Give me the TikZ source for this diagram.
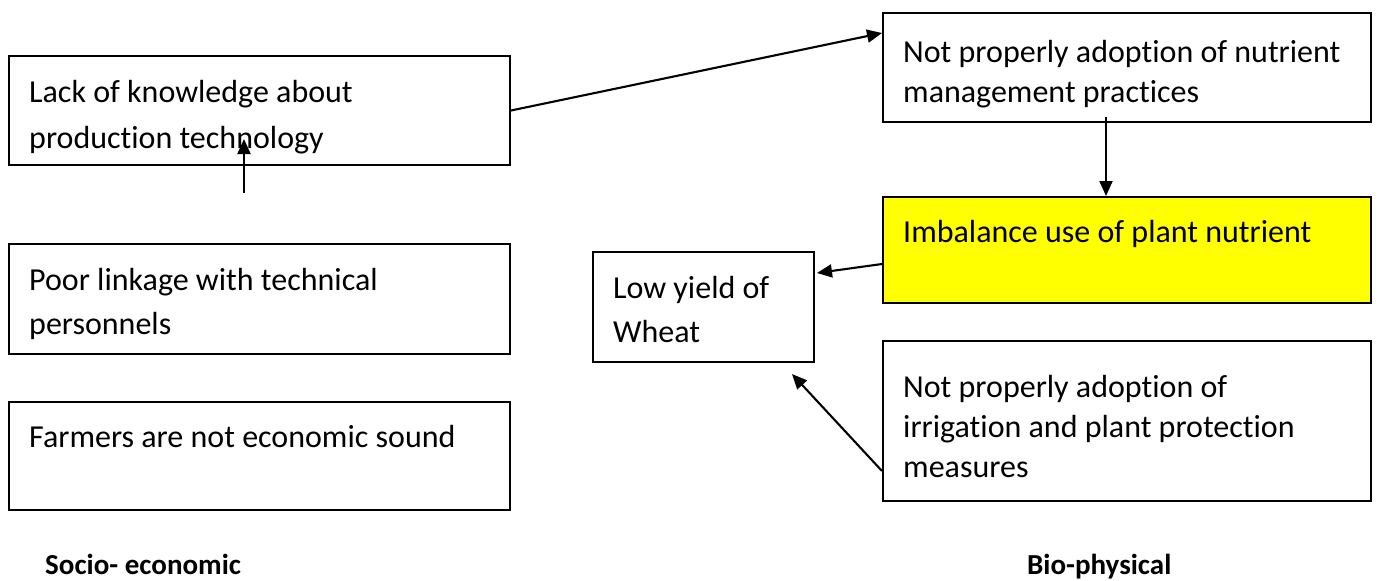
\documentclass[tikz,border=0pt]{standalone}
\usepackage{fontspec}
\setmainfont{Carlito}[Ligatures={NoCommon,NoContextual,NoRequired}]
\usetikzlibrary{arrows.meta}
\definecolor{boxyellow}{HTML}{FFFF00}
\begin{document}
\begin{tikzpicture}[x=1pt,y=-1pt,
  boxshape/.style={draw=black, line width=2pt, rectangle, inner sep=0pt, anchor=north west},
  txt/.style={inner sep=0pt, anchor=base west, align=left, font=\fontsize{32}{46}\selectfont},
  txtr/.style={txt, font=\fontsize{32}{40}\selectfont},
  lbl/.style={inner sep=0pt, anchor=base west, font=\bfseries\fontsize{29}{32}\selectfont},
  conn/.style={line width=2.1pt, -{Triangle[length=15pt,width=13pt]}}]
\useasboundingbox (0,0) rectangle (1379,581);
% boxes
\node[boxshape, minimum width=501pt, minimum height=109pt] (A) at (8,55) {};
\node[boxshape, minimum width=501pt, minimum height=110pt] (B) at (8,243) {};
\node[boxshape, minimum width=501pt, minimum height=108pt] (C) at (8,401) {};
\node[boxshape, minimum width=488pt, minimum height=109pt] (D) at (882,12) {};
\node[boxshape, fill=boxyellow, minimum width=488pt, minimum height=106pt] (E) at (882,196) {};
\node[boxshape, minimum width=221pt, minimum height=110pt] (F) at (592,251) {};
\node[boxshape, minimum width=488pt, minimum height=160pt] (G) at (882,340) {};
% texts (anchored at the baseline of the last line)
\node[txt] (tA) at (29,148) {Lack of knowledge about\\production technology};
\node[txt, font=\fontsize{32}{44}\selectfont] (tB) at (29,334) {Poor linkage with technical\\personnels};
\node[txt] (tC) at (29,447) {Farmers are not economic sound};
\node[txtr] (tD) at (903,102) {Not properly adoption of nutrient\\management practices};
\node[txtr] (tE) at (903,242) {Imbalance use of plant nutrient};
\node[txt, font=\fontsize{32}{44}\selectfont] (tF) at (613,342) {Low yield of\\Wheat};
\node[txtr] (tG) at (903,477) {Not properly adoption of\\irrigation and plant protection\\measures};
\node[lbl] (s1) at (45,574) {Socio- economic};
\node[lbl] (s2) at (1027,574) {Bio-physical};
% connectors
\coordinate (u) at (244,193);
\draw[conn] (u) -- ([xshift=236pt,yshift=27pt]A.south west);
\draw[conn] (A.east) -- ([yshift=-21pt]D.north west);
\draw[conn] ([xshift=-21pt,yshift=6pt]D.south) -- ([xshift=-21pt]E.north);
\draw[conn] ([yshift=-14pt]E.west) -- ([xshift=2pt,yshift=-22pt]F.north east);
\draw[conn] ([yshift=31pt]G.south west) -- ([xshift=-23pt,yshift=-11pt]F.south east);
\end{tikzpicture}
\end{document}
